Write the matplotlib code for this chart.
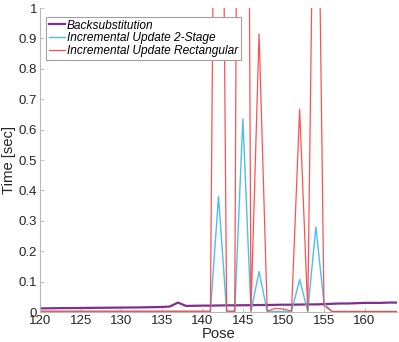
import matplotlib
matplotlib.use('Agg')
import matplotlib.pyplot as plt

# Pose index
poses = list(range(120, 165))

# Backsubstitution timing [sec]
backsub = [0.012, 0.0122, 0.0125, 0.0128, 0.013, 0.0132, 0.0135, 0.0138, 0.014, 0.0143,
           0.0145, 0.0148, 0.015, 0.0155, 0.016, 0.0165, 0.018, 0.031, 0.020, 0.0205,
           0.021, 0.021, 0.0215, 0.022, 0.022, 0.0222, 0.0225, 0.023, 0.023, 0.0235,
           0.024, 0.024, 0.0245, 0.025, 0.025, 0.026, 0.027, 0.028, 0.028, 0.029,
           0.030, 0.030, 0.030, 0.031, 0.031]

# Incremental update, 2-stage [sec]
inc_2stage = [0.001, 0.001, 0.001, 0.001, 0.001, 0.001, 0.001, 0.001, 0.001, 0.001,
              0.001, 0.001, 0.001, 0.001, 0.001, 0.001, 0.001, 0.001, 0.001, 0.001,
              0.001, 0.001, 0.38, 0.001, 0.002, 0.635, 0.002, 0.133, 0.002, 0.002,
              0.002, 0.002, 0.107, 0.002, 0.28, 0.029, 0.001, 0.001, 0.001, 0.001,
              0.001, 0.001, 0.001, 0.001, 0.001]

# Incremental update, rectangular [sec]
inc_rect = [0.003, 0.003, 0.003, 0.003, 0.003, 0.003, 0.003, 0.003, 0.003, 0.003,
            0.003, 0.003, 0.003, 0.003, 0.003, 0.003, 0.003, 0.003, 0.003, 0.003,
            0.003, 0.003, 3.3, 0.003, 0.003, 5.5, 0.003, 0.915, 0.003, 0.012,
            0.010, 0.003, 0.667, 0.003, 2.1, 0.02, 0.002, 0.002, 0.002, 0.002,
            0.002, 0.002, 0.002, 0.002, 0.002]

x_ticks = [120, 125, 130, 135, 140, 145, 150, 155, 160]
y_ticks = [0, 0.1, 0.2, 0.3, 0.4, 0.5, 0.6, 0.7, 0.8, 0.9, 1]
y_tick_labels = ['0', '0.1', '0.2', '0.3', '0.4', '0.5', '0.6', '0.7', '0.8', '0.9', '1']

plt.rcParams['font.family'] = ['Liberation Sans', 'DejaVu Sans']

fig = plt.figure(figsize=(3.99, 3.42), dpi=100)
ax = fig.add_axes([0.1003, 0.0877, 0.8947, 0.8889])

ax.plot(poses, backsub, color='#7E2F8E', lw=1.6, label='Backsubstitution')
ax.plot(poses, inc_2stage, color='#4DBEEE', lw=1.0, label='Incremental Update 2-Stage')
ax.plot(poses, inc_rect, color='#FF3333', lw=0.9, alpha=0.85,
        label='Incremental Update Rectangular')

ax.set_xlim(120, 164)
ax.set_ylim(0, 1)
ax.set_xticks(x_ticks)
ax.set_yticks(y_ticks)
ax.set_yticklabels(y_tick_labels)

for side in ['top', 'right']:
    ax.spines[side].set_visible(False)
for side in ['left', 'bottom']:
    ax.spines[side].set_color('#b8b8b8')
    ax.spines[side].set_linewidth(0.8)

ax.tick_params(direction='in', length=3, width=0.6, color='#b8b8b8',
               labelsize=9.5, labelcolor='#262626', pad=2)

ax.set_xlabel('Pose', fontsize=10.7, color='#262626', labelpad=0)
ax.set_ylabel('Time [sec]', fontsize=10.7, color='#262626', labelpad=2)

leg = ax.legend(loc='upper left', bbox_to_anchor=(0.017, 0.972),
                prop={'style': 'italic', 'size': 8.6}, frameon=True, fancybox=False,
                framealpha=1.0, edgecolor='#a0a0a0', handlelength=1.3,
                handletextpad=0.2, borderpad=0.25, labelspacing=0.05,
                borderaxespad=0.0)
leg.get_frame().set_linewidth(0.8)

fig.savefig('out.png', dpi=100)
plt.close(fig)
